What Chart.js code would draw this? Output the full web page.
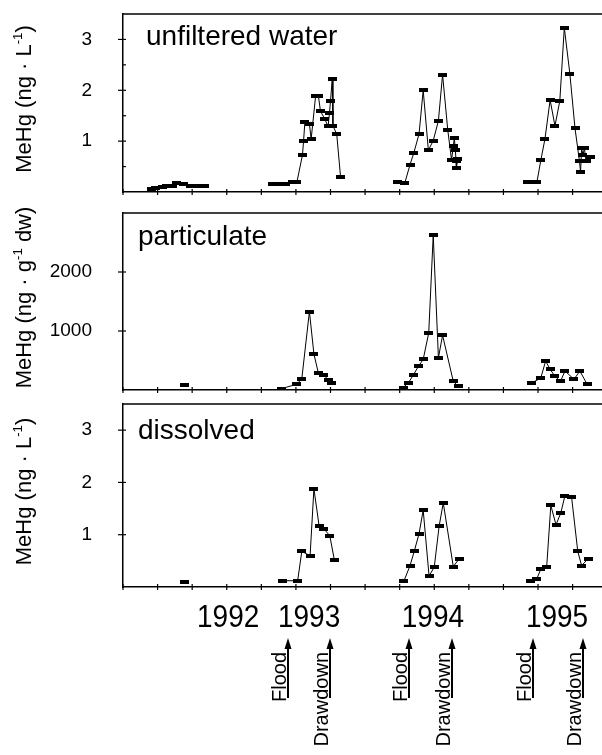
<!DOCTYPE html>
<html><head><meta charset="utf-8">
<script src="https://cdn.jsdelivr.net/npm/chart.js@4.4.0/dist/chart.umd.min.js"></script>
<style>
html,body{margin:0;padding:0;background:#fff;}
#wrap{position:relative;width:602px;height:755px;overflow:hidden;background:#fff;}
canvas{position:absolute;left:0;}
</style></head><body>
<div id="wrap">
<canvas id="c1" width="602" height="200" style="top:0px"></canvas>
<canvas id="c2" width="602" height="200" style="top:200px"></canvas>
<canvas id="c3" width="602" height="355" style="top:400px"></canvas>
</div>
<script>
// x values: days counted from the start of 1992 (approximate), null = break between seasons
const xTicks = [0,100,200,300,400,500,600,700,800,900,1000,1100,1200,1300];
const xMax = 1385;
const yearLabels = ['1992','1993','1994','1995'];
const yearLabelDays = [304, 538, 896, 1255];
const eventLabels = ['Flood','Drawdown','Flood','Drawdown','Flood','Drawdown'];
const eventDays = [477, 598, 827, 951, 1185, 1330];

const unfilteredDays = [81,95,113,127,142,156,174,194,217,237, null,
  431,451,471,489,503,519,522,526,539,544,557,565,571,583,593,597,600,605,607,618,629, null,
  795,815,830,841,856,868,883,897,912,924,939,950,955,958,961,963,964,968, null,
  1171,1197,1208,1220,1235,1249,1263,1276,1292,1307,1320,1323,1326,1330,1334,1339,1353];
const unfilteredValues = [0.06,0.07,0.09,0.11,0.12,0.17,0.15,0.11,0.11,0.11, null,
  0.15,0.15,0.16,0.2,0.2,0.73,1.0,1.38,1.34,1.04,1.89,1.89,1.59,1.44,1.29,1.55,1.79,2.22,1.3,1.14,0.3, null,
  0.2,0.18,0.54,0.77,1.14,2.0,0.82,1.01,1.4,2.31,1.22,0.63,0.9,1.06,0.83,0.6,0.47,0.65, null,
  0.19,0.2,0.62,1.04,1.81,1.3,1.79,3.23,2.33,1.25,0.6,0.39,0.86,0.73,0.86,0.6,0.69];

const particulateDays = [179, null,
  459,502,517,539,552,565,581,594,603, null,
  810,825,839,854,868,884,897,912,924,955,969, null,
  1182,1208,1222,1235,1249,1265,1278,1304,1321,1342];
const particulateValues = [80, null,
  24,97,190,1330,610,285,250,170,125, null,
  41,119,249,400,518,966,2622,545,927,147,63, null,
  119,203,492,351,232,147,322,181,322,97];

const dissolvedDays = [179, null,
  462,505,517,541,552,567,581,598,611, null,
  812,830,842,856,868,885,900,914,926,955,972, null,
  1177,1196,1208,1225,1237,1252,1266,1278,1297,1315,1326,1345];
const dissolvedValues = [0.09, null,
  0.12,0.12,0.68,0.6,1.88,1.17,1.11,0.98,0.52, null,
  0.11,0.41,0.68,1.02,1.47,0.21,0.38,1.16,1.61,0.39,0.54, null,
  0.12,0.15,0.34,0.38,1.56,1.19,1.42,1.75,1.72,0.68,0.41,0.54];

const yTicksUnfiltered = [1,2,3];
const yMinorUnfiltered = [0.5,1.5,2.5];
const yTicksParticulate = [1000,2000];
const yTicksDissolved = [1,2,3];

const FONT = '"Liberation Sans", Arial, Helvetica, sans-serif';

// marker: small horizontal black bar
const marker = document.createElement('canvas');
marker.width = 9; marker.height = 4;
(function(){ const m = marker.getContext('2d'); m.fillStyle = '#000'; m.fillRect(0,0,9,4); })();

function drawRotTitle(ctx, parts, baseX, cy, size) {
  ctx.save();
  let w = 0;
  const segs = parts.map(p => {
    const fs = p.sup ? size * 0.6 : size;
    ctx.font = fs + 'px ' + FONT;
    const m = ctx.measureText(p.t).width;
    w += m;
    return {p, fs, m};
  });
  ctx.translate(baseX, cy);
  ctx.rotate(-Math.PI / 2);
  ctx.fillStyle = '#000';
  ctx.textBaseline = 'alphabetic';
  ctx.textAlign = 'left';
  let x = -w / 2;
  segs.forEach(s => {
    ctx.font = s.fs + 'px ' + FONT;
    ctx.fillText(s.p.t, x, s.p.sup ? -size * 0.4 : 0);
    x += s.m;
  });
  ctx.restore();
}

function zeroPad(s) { s.paddingTop = 0; s.paddingBottom = 0; s.paddingLeft = 0; s.paddingRight = 0; }

function framePlugin(cfg) {
  return {
    id: 'frame_' + cfg.id,
    afterDraw(chart) {
      const ctx = chart.ctx;
      const a = chart.chartArea;
      const xs = chart.scales.x, ys = chart.scales.y;
      ctx.save();
      ctx.strokeStyle = '#000';
      ctx.lineWidth = 1.5;
      // top border
      ctx.beginPath(); ctx.moveTo(a.left, a.top); ctx.lineTo(a.right, a.top); ctx.stroke();
      // x tick marks crossing the axis
      ctx.lineWidth = 1.2;
      xTicks.forEach(v => {
        const px = xs.getPixelForValue(v);
        ctx.beginPath(); ctx.moveTo(px, a.bottom - 3); ctx.lineTo(px, a.bottom + 3); ctx.stroke();
      });
      // y tick marks
      cfg.yTicks.forEach(v => {
        const py = ys.getPixelForValue(v);
        ctx.beginPath(); ctx.moveTo(a.left - 5, py); ctx.lineTo(a.left + 3, py); ctx.stroke();
      });
      (cfg.yMinor || []).forEach(v => {
        const py = ys.getPixelForValue(v);
        ctx.beginPath(); ctx.moveTo(a.left, py); ctx.lineTo(a.left + 3, py); ctx.stroke();
      });
      // panel label
      ctx.fillStyle = '#000';
      ctx.font = '28px ' + FONT;
      ctx.textAlign = 'left';
      ctx.textBaseline = 'alphabetic';
      ctx.fillText(cfg.label, a.left + cfg.labelDX, a.top + cfg.labelDY);
      // y axis title
      drawRotTitle(ctx, cfg.title, 31, (a.top + a.bottom) / 2 - 4, 22);
      // year labels and event arrows (bottom panel only)
      if (cfg.bottom) {
        yearLabels.forEach((t, i) => {
          const px = xs.getPixelForValue(yearLabelDays[i]);
          ctx.save();
          ctx.translate(px, a.bottom + 40);
          ctx.scale(1, 1.15);
          ctx.font = '28px ' + FONT;
          ctx.textAlign = 'center';
          ctx.fillText(t, 0, 0);
          ctx.restore();
        });
        eventLabels.forEach((t, i) => {
          const px = Math.round(xs.getPixelForValue(eventDays[i]));
          const tip = a.bottom + 51, end = a.bottom + 111;
          ctx.lineWidth = 2;
          ctx.beginPath(); ctx.moveTo(px, tip + 8); ctx.lineTo(px, end); ctx.stroke();
          ctx.beginPath(); ctx.moveTo(px, tip); ctx.lineTo(px - 3.5, tip + 11); ctx.lineTo(px + 3.5, tip + 11); ctx.closePath(); ctx.fill();
          ctx.save();
          ctx.translate(px - 2.5, a.bottom + 65);
          ctx.rotate(-Math.PI / 2);
          ctx.font = '20px ' + FONT;
          ctx.textAlign = 'right';
          ctx.textBaseline = 'alphabetic';
          ctx.fillText(t, 0, 0);
          ctx.restore();
        });
      }
      ctx.restore();
    }
  };
}

function makeChart(cfg) {
  const data = cfg.days.map((d, i) => ({x: d, y: cfg.values[i]}));
  return new Chart(document.getElementById(cfg.id), {
    type: 'line',
    data: {datasets: [{
      data,
      borderColor: '#000', borderWidth: 1,
      pointStyle: marker, pointRadius: 4, pointHoverRadius: 4,
      pointBackgroundColor: '#000', pointBorderColor: '#000',
      tension: 0, spanGaps: false, fill: false
    }]},
    options: {
      responsive: false, animation: false, events: [],
      layout: {autoPadding: false, padding: {top: cfg.padTop, right: 0, bottom: 0, left: 0}},
      plugins: {legend: {display: false}, tooltip: {enabled: false}},
      scales: {
        x: {
          type: 'linear', min: 0, max: xMax,
          grid: {display: false, drawTicks: false},
          border: {display: true, color: '#000', width: 1.5},
          ticks: {display: false},
          afterBuildTicks: s => { s.ticks = xTicks.map(v => ({value: v})); },
          afterFit: s => { s.height = cfg.xHeight; zeroPad(s); }
        },
        y: {
          type: 'linear', min: 0, max: cfg.yMax,
          grid: {display: false, drawTicks: false},
          border: {display: true, color: '#000', width: 1.5},
          ticks: {color: '#000', font: {family: FONT, size: 19}, padding: 31, autoSkip: false,
                  callback: v => String(v)},
          afterBuildTicks: s => { s.ticks = cfg.yTicks.map(v => ({value: v})); },
          afterFit: s => { s.width = 123; zeroPad(s); }
        }
      }
    },
    plugins: [framePlugin(cfg)]
  });
}

makeChart({id: 'c1', days: unfilteredDays, values: unfilteredValues, yMax: 3.5,
  yTicks: yTicksUnfiltered, yMinor: yMinorUnfiltered, padTop: 14, xHeight: 8,
  label: 'unfiltered water', labelDX: 23, labelDY: 31,
  title: [{t: 'MeHg (ng · L'}, {t: '-1', sup: true}, {t: ')'}]});
makeChart({id: 'c2', days: particulateDays, values: particulateValues, yMax: 3000,
  yTicks: yTicksParticulate, padTop: 13, xHeight: 10,
  label: 'particulate', labelDX: 15, labelDY: 32,
  title: [{t: 'MeHg (ng · g'}, {t: '-1', sup: true}, {t: ' dw)'}]});
makeChart({id: 'c3', days: dissolvedDays, values: dissolvedValues, yMax: 3.5,
  yTicks: yTicksDissolved, padTop: 4, xHeight: 168, bottom: true,
  label: 'dissolved', labelDX: 15, labelDY: 35,
  title: [{t: 'MeHg (ng · L'}, {t: '-1', sup: true}, {t: ')'}]});
</script>
</body></html>
